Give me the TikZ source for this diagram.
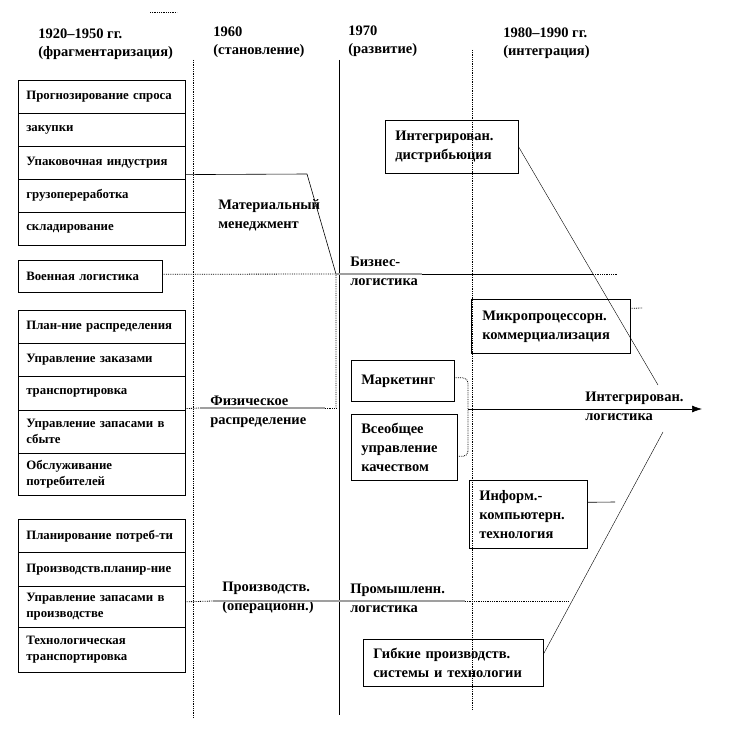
\documentclass[tikz,border=0pt]{standalone}
\usepackage{fontspec}
\setmainfont{Liberation Serif}
\usetikzlibrary{arrows.meta}
\begin{document}
\begin{tikzpicture}[x=1pt,y=-1pt,line width=0.6pt,
  every node/.style={font=\fontsize{14.5}{19}\selectfont\bfseries},
  cell/.style={draw,anchor=north west,inner xsep=8pt,inner ysep=0pt,text width=151pt,minimum height=#1,align=left,font=\fontsize{12.8}{16}\selectfont\bfseries},
  tag/.style={anchor=north west,inner sep=0pt,align=left},
  card/.style={draw,anchor=north west,inner xsep=10pt,inner ysep=0pt,align=left},
  gline/.style={gray!75,line width=1.5pt},
  dots/.style={densely dotted,line width=0.8pt}]
  \useasboundingbox (0,0) rectangle (737,730);
  \draw[dots] (150,12) -- (177,12);
  % periods
  \node[tag,font=\fontsize{14.5}{18}\selectfont\bfseries] (h1) at (38,29) {1920–1950 гг.\\(фрагментаризация)};
  \node[tag,font=\fontsize{14.5}{18}\selectfont\bfseries] (h2) at (213,27) {1960\\(становление)};
  \node[tag,font=\fontsize{14.5}{18}\selectfont\bfseries] (h3) at (348,26) {1970\\(развитие)};
  \node[tag,font=\fontsize{14.5}{18}\selectfont\bfseries] (h4) at (503,28) {1980–1990 гг.\\(интеграция)};
  \draw[dots] (193,60) -- (193,718);
  \draw (339,60) -- (339,715);
  \draw[dots] (472,50) -- (472,710);
  % left column
  \foreach \y/\h/\txt [count=\k] in {80/33/Прогнозирование спроса,113/33/закупки,146/33/Упаковочная индустрия,179/33/грузопереработка,212/33/складирование}
    \node[cell=\h pt] (a\k) at (18,\y) {\txt};
  \node[cell=32pt,text width=128pt] (mil) at (18,260) {Военная логистика};
  \foreach \y/\h/\txt [count=\k] in {310/33/План-ние распределения,343/33/Управление заказами,376/34/транспортировка,410/43/{Управление запасами в\\сбыте},453/42/{Обслуживание\\потребителей}}
    \node[cell=\h pt] (b\k) at (18,\y) {\txt};
  \foreach \y/\h/\txt [count=\k] in {519/33/Планирование потреб-ти,552/34/Производств.планир-ние,586/41/{Управление запасами в\\производстве},627/45/{Технологическая\\транспортировка}}
    \node[cell=\h pt] (c\k) at (18,\y) {\txt};
  % branch labels
  \node[tag] (mm) at (218,199) {Материальный\\менеджмент};
  \node[tag] (bl) at (350,257) {Бизнес-\\логистика};
  \node[tag] (pd) at (210,396) {Физическое\\распределение};
  \node[tag] (il) at (585,392) {Интегрирован.\\логистика};
  \node[tag] (pr) at (222,582) {Производств.\\(операционн.)};
  \node[tag] (pl) at (350,584) {Промышленн.\\логистика};
  % boxes of the later periods
  \node[card,text width=113pt,minimum height=53pt] (id) at (385,120) {Интегрирован.\\дистрибьюция};
  \node[card,text width=137pt,minimum height=54pt,inner xsep=11pt] (mp) at (471,299) {Микропроцессорн.\\коммерциализация};
  \node[card,text width=83pt,minimum height=41pt] (mk) at (351,360) {Маркетинг};
  \node[card,text width=86pt,minimum height=66pt] (tq) at (351,414) {Всеобщее\\управление\\качеством};
  \node[card,text width=98pt,minimum height=68pt] (ik) at (469,480) {Информ.-\\компьютерн.\\технология};
  \node[card,text width=160pt,minimum height=47pt] (gb) at (363,639) {Гибкие производств.\\системы и технологии};
  \foreach \n/\x/\y in {mmA/307/174,hub/336/274,pdA/200/408,pdB/325/408,pdC/336/408,blA/422/274,blB/593/274,blC/617/274,prA/213/601,prB/465/601,prC/568/601,br/468/409,tip/702/409,dA/658/385,dB/663/432,mpS/643/308,ikS/615/502}
    \coordinate (\n) at (\x,\y);
  % branches
  \draw ([yshift=5pt]a3.south east) -- (mmA) -- (hub);
  \draw[dots] ([yshift=2pt]mil.east) -- (hub) -- (pdC);
  \draw[dots] ([yshift=2pt]b3.south east) -- (pdA);
  \draw[gline] (pdA) -- (pdB);
  \draw[dots] (pdB) -- (pdC);
  \draw[gline] (hub) -- (blA);
  \draw (blA) -- (blB);
  \draw[dots] (blB) -- (blC);
  \draw[dots] ([yshift=5pt]c3.east) -- (prA);
  \draw[gline] (prA) -- (prB);
  \draw[dots] (prB) -- (prC);
  \draw[dots,rounded corners=5pt] ([yshift=3pt]mk.east) -| (br) |- ([yshift=-9pt]tq.east);
  \draw[-{Latex[length=10pt,width=7pt]}] (br) -- (tip);
  \draw[line width=0.4pt] (id.east) -- (dA);
  \draw[line width=0.4pt] ([yshift=9pt]gb.east) -- (dB);
  \draw[dots] ([yshift=18pt]mp.east) -- (mpS);
  \draw ([yshift=12pt]ik.east) -- (ikS);
\end{tikzpicture}
\end{document}
